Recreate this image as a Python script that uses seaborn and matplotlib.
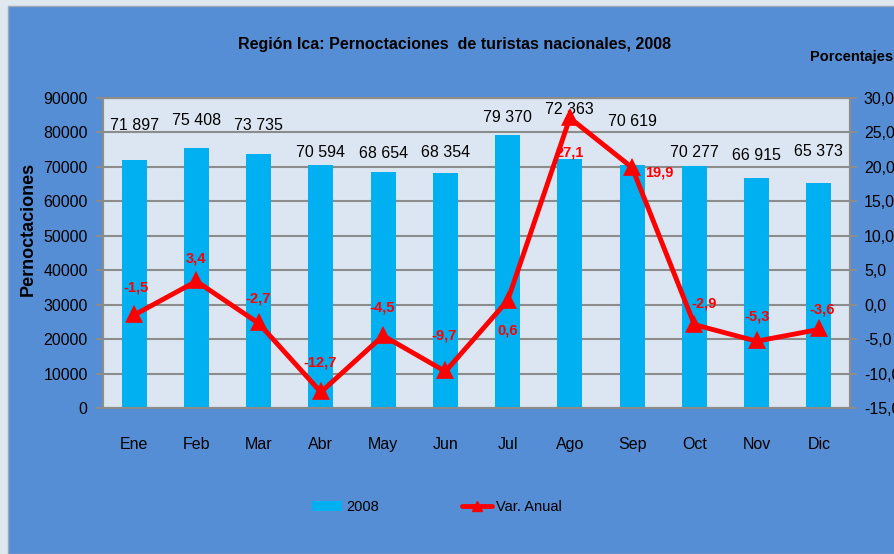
import matplotlib
matplotlib.use('Agg')
import matplotlib.pyplot as plt
import seaborn as sns
import numpy as np
from matplotlib.patches import Rectangle, Patch
from matplotlib.lines import Line2D
from matplotlib.ticker import FuncFormatter

# datos
meses = ['Ene', 'Feb', 'Mar', 'Abr', 'May', 'Jun', 'Jul', 'Ago', 'Sep', 'Oct', 'Nov', 'Dic']
pernoct_2008 = [71897, 75408, 73735, 70594, 68654, 68354, 79370, 72363, 70619, 70277, 66915, 65373]
var_anual = [-1.5, 3.4, -2.7, -12.7, -4.5, -9.7, 0.6, 27.1, 19.9, -2.9, -5.3, -3.6]

# desplazamiento de etiquetas (pixeles)
bar_lab_dy = [35, 28, 29, 12, 18, 20, 17, 49, 43, 13, 22, 31]
var_lab_off = [(2, 28), (0, 23), (-1, 25), (-1, 30), (-1, 28), (-1, 36), (0, -30),
               (0, -35), (27, -5), (10, 21), (0, 25), (3, 20)]

sns.set_theme(style='white')
plt.rcParams['font.family'] = ['Liberation Sans Narrow', 'Liberation Sans', 'DejaVu Sans']
plt.rcParams['text.color'] = 'black'
plt.rcParams['xtick.color'] = 'black'
plt.rcParams['ytick.color'] = 'black'

azul_panel = '#558ED5'
gris = '#8C8C8C'

fig = plt.figure(figsize=(8.95, 5.54), dpi=100)
fig.patch.set_facecolor('#dfe7ef')
fig.patches.append(Rectangle((8 / 895, 0), 1, 1 - 6 / 554, transform=fig.transFigure,
                             facecolor=azul_panel, edgecolor='#9aa8b8', lw=1, zorder=-10))

ax = fig.add_axes([103 / 895, 1 - 408 / 554, 747 / 895, 310 / 554])
ax.set_facecolor('#DCE6F2')

sns.barplot(x=meses, y=pernoct_2008, color='#00B0F0', saturation=1, width=0.4,
            edgecolor='none', ax=ax)
ax.set_ylim(0, 90000)
ax.set_yticks(np.arange(0, 90001, 10000))
ax.yaxis.grid(True, color=gris, lw=1.5)
ax.set_axisbelow(True)
ax.set_xlim(-0.5, 11.5)

for i, v in enumerate(pernoct_2008):
    txt = f'{v:,}'.replace(',', ' ')
    ax.annotate(txt, (i, v), xytext=(0, bar_lab_dy[i] * 0.72), textcoords='offset points',
                ha='center', va='center', fontsize=11.5, color='black')

ax2 = ax.twinx()
sns.pointplot(x=meses, y=var_anual, color='#FF0000', markers='^', linewidth=3.5,
              markersize=9, errorbar=None, ax=ax2)
ax2.set_ylim(-15, 30)
ax2.set_yticks(np.arange(-15, 30.1, 5))
ax2.yaxis.set_major_formatter(FuncFormatter(lambda v, p: f'{v:.1f}'.replace('.', ',')))
ax2.set_xlim(-0.5, 11.5)

for i, v in enumerate(var_anual):
    dx, dy = var_lab_off[i]
    ax2.annotate(f'{v:.1f}'.replace('.', ','), (i, v), xytext=(dx * 0.72, dy * 0.72),
                 textcoords='offset points', ha='center', va='center',
                 fontsize=10.5, fontweight='bold', color='#FF0000')

for a in (ax, ax2):
    for s in a.spines.values():
        s.set_color(gris)
        s.set_linewidth(1.5)
    a.set_ylabel('')
    a.tick_params(axis='y', colors=gris, labelcolor='black', labelsize=11.5,
                  length=5, width=1.5, direction='out')
ax.tick_params(axis='x', length=0, labelsize=11.5, pad=21, labelcolor='black')
ax.tick_params(axis='y', pad=6)
ax2.tick_params(axis='y', pad=5)

fig.text(455 / 895, 1 - 45 / 554, 'Región Ica: Pernoctaciones  de turistas nacionales, 2008',
         ha='center', va='center', fontsize=11.5, fontweight='bold')
fig.text(852 / 895, 1 - 57 / 554, 'Porcentajes', ha='center', va='center',
         fontsize=10.5, fontweight='bold')
fig.text(28 / 895, 1 - 229 / 554, 'Pernoctaciones', ha='center', va='center', rotation=90,
         fontsize=13, fontweight='bold')

handles = [Patch(facecolor='#00B0F0', edgecolor='none', label='2008'),
           Line2D([], [], color='#FF0000', lw=3.5, marker='^', markersize=7, label='Var. Anual')]
fig.legend(handles=handles, loc='center', bbox_to_anchor=(437 / 895, 1 - 507 / 554), ncol=2,
           frameon=False, fontsize=10.5, handlelength=2.05, handletextpad=0.3, columnspacing=5.7)

fig.savefig('out.png', dpi=100, facecolor=fig.get_facecolor())
